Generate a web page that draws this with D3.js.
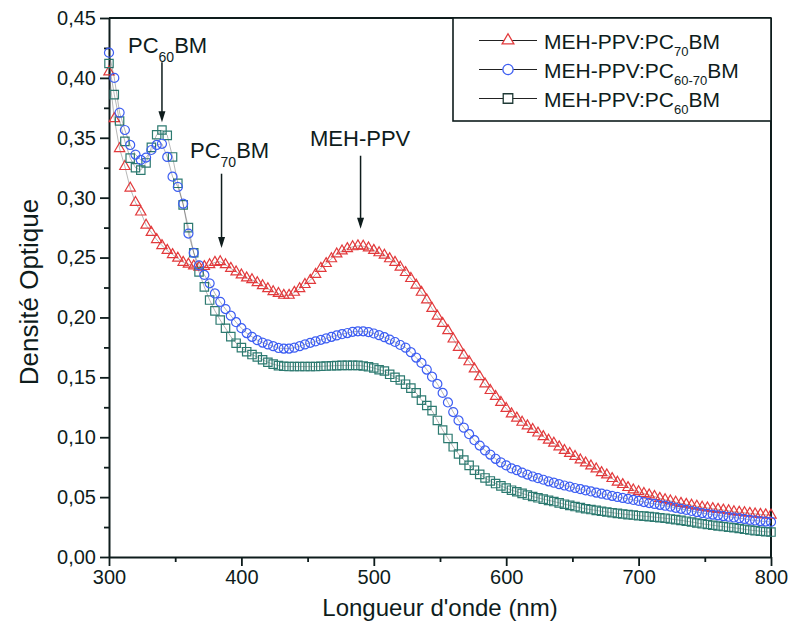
<!DOCTYPE html>
<html><head><meta charset="utf-8">
<script src="https://cdn.jsdelivr.net/npm/d3@7"></script>
<style>
html,body{margin:0;padding:0;background:#fff;}
svg{display:block;font-family:"Liberation Sans",Arial,sans-serif;}
</style></head>
<body>
<svg id="chart" width="789" height="626"></svg>
<script>
const wavelengths = [300,304,308,312,316,320,324,328,332,336,340,344,348,352,356,360,364,368,372,376,380,384,388,392,396,400,404,408,412,416,420,424,428,432,436,440,444,448,452,456,460,464,468,472,476,480,484,488,492,496,500,504,508,512,516,520,524,528,532,536,540,544,548,552,556,560,564,568,572,576,580,584,588,592,596,600,604,608,612,616,620,624,628,632,636,640,644,648,652,656,660,664,668,672,676,680,684,688,692,696,700,704,708,712,716,720,724,728,732,736,740,744,748,752,756,760,764,768,772,776,780,784,788,792,796,800];

const pc70 = [0.405,0.366,0.341,0.326,0.308,0.296,0.288,0.277,0.271,0.265,0.260,0.256,0.2525,0.2495,0.246,0.2445,0.243,0.242,0.2425,0.244,0.246,0.2465,0.244,0.241,0.238,0.2355,0.233,0.2315,0.229,0.2265,0.224,0.2215,0.220,0.2185,0.2185,0.221,0.224,0.2275,0.231,0.236,0.241,0.245,0.249,0.253,0.2555,0.2575,0.259,0.2598,0.2595,0.258,0.256,0.254,0.252,0.249,0.246,0.242,0.2375,0.2325,0.227,0.221,0.2146,0.2075,0.201,0.195,0.189,0.182,0.175,0.1685,0.163,0.157,0.1505,0.1445,0.139,0.134,0.129,0.124,0.1195,0.116,0.1125,0.1095,0.1065,0.1035,0.1005,0.0975,0.095,0.092,0.089,0.0865,0.084,0.081,0.0785,0.076,0.0735,0.0705,0.0685,0.0655,0.0625,0.0605,0.058,0.056,0.0545,0.053,0.0518,0.0505,0.049,0.0478,0.0468,0.0458,0.0448,0.044,0.0432,0.0424,0.0416,0.041,0.0404,0.0398,0.0392,0.0386,0.0378,0.0374,0.037,0.0365,0.036,0.0356,0.0352,0.035];

const pc6070 = [0.421,0.400,0.371,0.3565,0.344,0.336,0.3315,0.3335,0.3398,0.344,0.345,0.334,0.3175,0.309,0.295,0.270,0.254,0.2435,0.2355,0.2285,0.220,0.213,0.207,0.2015,0.196,0.191,0.187,0.1838,0.181,0.179,0.1775,0.176,0.1745,0.174,0.174,0.1748,0.176,0.1775,0.1788,0.180,0.1813,0.1825,0.1838,0.185,0.186,0.187,0.188,0.1884,0.1884,0.1878,0.1866,0.1852,0.1835,0.1815,0.1795,0.177,0.1748,0.171,0.1665,0.162,0.1565,0.1505,0.1445,0.137,0.129,0.121,0.114,0.108,0.1025,0.0975,0.093,0.089,0.0855,0.082,0.079,0.0765,0.074,0.0725,0.0705,0.0688,0.0672,0.0658,0.0645,0.0632,0.062,0.0608,0.0597,0.0587,0.0576,0.0566,0.0556,0.0547,0.0538,0.0529,0.052,0.0511,0.0502,0.0493,0.0485,0.0476,0.0468,0.0459,0.045,0.0443,0.0436,0.0428,0.042,0.0411,0.0402,0.0393,0.0384,0.0375,0.0367,0.036,0.0354,0.0348,0.0342,0.0336,0.033,0.0324,0.0318,0.031,0.0305,0.030,0.0296,0.0293];

const pc60 = [0.412,0.386,0.364,0.347,0.333,0.325,0.323,0.329,0.342,0.3525,0.3565,0.352,0.334,0.312,0.294,0.275,0.254,0.238,0.2255,0.2145,0.2055,0.1978,0.191,0.184,0.1785,0.1748,0.1714,0.169,0.167,0.1647,0.1626,0.161,0.1598,0.1592,0.159,0.159,0.159,0.159,0.159,0.159,0.1592,0.1594,0.1596,0.1598,0.160,0.160,0.160,0.160,0.1595,0.1588,0.1578,0.1563,0.1553,0.1525,0.150,0.1478,0.1443,0.141,0.137,0.131,0.1265,0.1222,0.114,0.106,0.099,0.092,0.086,0.081,0.0765,0.0725,0.069,0.066,0.0635,0.0613,0.0594,0.0575,0.0558,0.0545,0.0531,0.0517,0.0505,0.0494,0.0483,0.0473,0.0463,0.0452,0.0441,0.0431,0.0421,0.0412,0.0403,0.0396,0.0389,0.0382,0.0376,0.037,0.0364,0.0359,0.0354,0.035,0.0345,0.0341,0.0337,0.0333,0.0328,0.0324,0.0318,0.0312,0.0306,0.0299,0.0292,0.0284,0.0277,0.0271,0.0265,0.0259,0.0254,0.0249,0.0244,0.0238,0.0231,0.0225,0.022,0.0215,0.0211,0.0208];

const xTicks = [300,400,500,600,700,800];
const xMinorTicks = [350,450,550,650,750];
const yTicks = [0,0.05,0.10,0.15,0.20,0.25,0.30,0.35,0.40,0.45];
const yMinorTicks = [0.025,0.075,0.125,0.175,0.225,0.275,0.325,0.375,0.425];

const seriesNames = [
  {pre:"MEH-PPV:PC", sub:"70", post:"BM"},
  {pre:"MEH-PPV:PC", sub:"60-70", post:"BM"},
  {pre:"MEH-PPV:PC", sub:"60", post:"BM"}
];
const annotations = [
  {pre:"PC", sub:"60", post:"BM", x:340, textX:128, textY:53, from:0.413, to:0.363},
  {pre:"PC", sub:"70", post:"BM", x:385, textX:190, textY:158, from:0.32, to:0.258},
  {pre:"MEH-PPV", sub:"", post:"", x:490, textX:310, textY:146, from:0.335, to:0.274}
];

const svg = d3.select("#chart");
const x = d3.scaleLinear().domain([300,800]).range([109,771]);
const y = d3.scaleLinear().domain([0,0.45]).range([557,18]);
const ink = "#0e1c1c";
const locale = d3.formatLocale({decimal:",", thousands:".", grouping:[3], currency:["",""]});
const fmt = locale.format(".2f");

// axes
const gx = svg.append("g").attr("transform","translate(0,557)")
  .call(d3.axisBottom(x).tickValues(xTicks).tickSize(9).tickSizeOuter(0).tickPadding(4).tickFormat(d3.format("d")));
const gxm = svg.append("g").attr("transform","translate(0,557)")
  .call(d3.axisBottom(x).tickValues(xMinorTicks).tickSize(5).tickFormat(""));
const gy = svg.append("g").attr("transform","translate(109,0)")
  .call(d3.axisLeft(y).tickValues(yTicks).tickSize(9).tickSizeOuter(0).tickPadding(4).tickFormat(fmt));
const gym = svg.append("g").attr("transform","translate(109,0)")
  .call(d3.axisLeft(y).tickValues(yMinorTicks).tickSize(5).tickFormat(""));
[gx,gxm,gy,gym].forEach(g=>{
  g.selectAll("path.domain").attr("stroke",ink).attr("stroke-width",2);
  g.selectAll("line").attr("stroke",ink).attr("stroke-width",1.8);
  g.selectAll("text").attr("fill",ink).attr("font-size",20).attr("font-family","'Liberation Sans',Arial,sans-serif");
});
gxm.select("path.domain").remove(); gym.select("path.domain").remove();
// frame top/right
svg.append("line").attr("x1",x(300)).attr("x2",x(800)).attr("y1",y(0.45)).attr("y2",y(0.45)).attr("stroke",ink).attr("stroke-width",2);
svg.append("line").attr("x1",x(800)).attr("x2",x(800)).attr("y1",y(0.45)).attr("y2",y(0)).attr("stroke",ink).attr("stroke-width",2);

// titles
svg.append("text").attr("x",440).attr("y",616).attr("text-anchor","middle")
  .attr("font-size",24).attr("fill",ink).text("Longueur d'onde (nm)");
svg.append("text").attr("transform","translate(38,292) rotate(-90)").attr("text-anchor","middle")
  .attr("font-size",26).attr("fill",ink).text("Densité Optique");

// series
const series = [
  {vals:pc70, color:"#e23a3c", sym:d3.symbolTriangle, size:46},
  {vals:pc60, color:"#2d7a70", sym:d3.symbolSquare, size:70},
  {vals:pc6070, color:"#3d5ef2", sym:d3.symbolCircle, size:64}
];
const line = d3.line().x(d=>x(d[0])).y(d=>y(d[1]));
const plot = svg.append("g");
series.forEach(s=>{
  const pts = wavelengths.map((w,i)=>[w,s.vals[i]]);
  plot.append("path").datum(pts).attr("d",line).attr("fill","none").attr("stroke","#1a1a1a").attr("stroke-width",0.7).attr("stroke-opacity",0.45);
  plot.append("g").selectAll("path").data(pts).join("path")
    .attr("transform",d=>`translate(${x(d[0])},${y(d[1])})`)
    .attr("d",d3.symbol().type(s.sym).size(s.size))
    .attr("fill","none").attr("stroke",s.color).attr("stroke-width",1.2);
});

// annotations
function richText(g, item, fs, subfs, shift){
  const t = g.append("text").attr("x",item.textX).attr("y",item.textY).attr("font-size",fs).attr("fill",ink);
  t.append("tspan").text(item.pre);
  if(item.sub){
    t.append("tspan").attr("font-size",subfs).attr("dy",shift).text(item.sub);
    t.append("tspan").attr("dy",-shift).text(item.post);
  }
  return t;
}
const ann = svg.append("g");
annotations.forEach(a=>{
  richText(ann, a, 22, 14, 9);
  ann.append("line").attr("x1",x(a.x)).attr("x2",x(a.x)).attr("y1",y(a.from)).attr("y2",y(a.to)-4)
    .attr("stroke",ink).attr("stroke-width",1.5);
  ann.append("path").attr("d",`M${x(a.x)-3.5},${y(a.to)-11} L${x(a.x)+3.5},${y(a.to)-11} L${x(a.x)},${y(a.to)} Z`).attr("fill",ink);
});

// legend
const lg = svg.append("g");
lg.append("rect").attr("x",453).attr("y",18).attr("width",318).attr("height",103)
  .attr("fill","#fff").attr("stroke",ink).attr("stroke-width",1.6);
const legendSeries = [series[0], series[2], series[1]];
const legendRows = [40.5, 69.5, 98.5];
legendSeries.forEach((s,i)=>{
  const cy = legendRows[i];
  lg.append("line").attr("x1",479).attr("x2",537).attr("y1",cy).attr("y2",cy).attr("stroke","#222").attr("stroke-width",1.2);
  lg.append("path").attr("transform",`translate(508,${cy})`).attr("d",d3.symbol().type(s.sym).size(s.size*1.3))
    .attr("fill","#fff").attr("stroke", i===2 ? "#1f3a36" : s.color).attr("stroke-width",1.3);
  const nm = seriesNames[i];
  richText(lg, {pre:nm.pre, sub:nm.sub, post:nm.post, textX:544, textY:cy+8}, 21, 13, 7);
});
</script>
</body></html>
